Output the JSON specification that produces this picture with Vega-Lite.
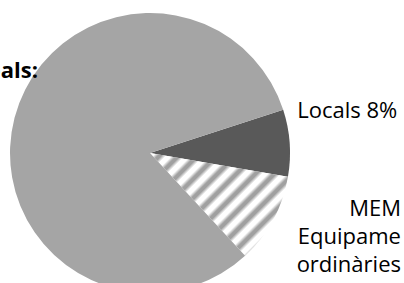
{
  "$schema": "https://vega.github.io/schema/vega-lite/v6.json",
  "width": 280,
  "height": 280,
  "autosize": "none",
  "padding": {"left": 10, "top": 13, "right": 114, "bottom": 0},
  "background": "white",
  "config": {"view": {"stroke": null}},
  "title": {
    "text": "Equipaments municipals:",
    "anchor": "start",
    "frame": "group",
    "align": "right",
    "baseline": "alphabetic",
    "offset": 0,
    "dx": 28,
    "dy": 87,
    "font": "Open Sans",
    "fontSize": 22,
    "fontWeight": "bold",
    "color": "#000000"
  },
  "data": {
    "values": [
      {"cat": "Locals", "value": 7.7, "label": "Locals 8%"},
      {"cat": "MEM", "value": 10.4, "label": ["MEM", "Equipame", "ordinàries"]},
      {"cat": "Municipals", "value": 81.9, "label": ""}
    ]
  },
  "transform": [
    {"stack": "value", "groupby": [], "sort": [{"field": "cat", "order": "ascending"}], "as": ["v0", "v1"]}
  ],
  "layer": [
    {
      "mark": {"type": "arc"},
      "encoding": {
        "theta": {"field": "v0", "type": "quantitative", "scale": {"domain": [0, 100], "range": [1.2575, 7.5407]}},
        "theta2": {"field": "v1"},
        "fill": {
          "condition": {
            "test": "datum.cat === 'MEM'",
            "value": {
              "gradient": "linear", "x1": 0, "y1": 0, "x2": 1.15, "y2": 0.858,
              "stops": [
                {"offset": 0, "color": "#ffffff"}, {"offset": 0.0231, "color": "#ffffff"}, {"offset": 0.0423, "color": "#a0a0a0"}, {"offset": 0.0577, "color": "#a0a0a0"},
                {"offset": 0.0769, "color": "#ffffff"}, {"offset": 0.1, "color": "#ffffff"}, {"offset": 0.1192, "color": "#a0a0a0"}, {"offset": 0.1346, "color": "#a0a0a0"},
                {"offset": 0.1538, "color": "#ffffff"}, {"offset": 0.1769, "color": "#ffffff"}, {"offset": 0.1962, "color": "#a0a0a0"}, {"offset": 0.2115, "color": "#a0a0a0"},
                {"offset": 0.2308, "color": "#ffffff"}, {"offset": 0.2538, "color": "#ffffff"}, {"offset": 0.2731, "color": "#a0a0a0"}, {"offset": 0.2885, "color": "#a0a0a0"},
                {"offset": 0.3077, "color": "#ffffff"}, {"offset": 0.3308, "color": "#ffffff"}, {"offset": 0.35, "color": "#a0a0a0"}, {"offset": 0.3654, "color": "#a0a0a0"},
                {"offset": 0.3846, "color": "#ffffff"}, {"offset": 0.4077, "color": "#ffffff"}, {"offset": 0.4269, "color": "#a0a0a0"}, {"offset": 0.4423, "color": "#a0a0a0"},
                {"offset": 0.4615, "color": "#ffffff"}, {"offset": 0.4846, "color": "#ffffff"}, {"offset": 0.5038, "color": "#a0a0a0"}, {"offset": 0.5192, "color": "#a0a0a0"},
                {"offset": 0.5385, "color": "#ffffff"}, {"offset": 0.5615, "color": "#ffffff"}, {"offset": 0.5808, "color": "#a0a0a0"}, {"offset": 0.5962, "color": "#a0a0a0"},
                {"offset": 0.6154, "color": "#ffffff"}, {"offset": 0.6385, "color": "#ffffff"}, {"offset": 0.6577, "color": "#a0a0a0"}, {"offset": 0.6731, "color": "#a0a0a0"},
                {"offset": 0.6923, "color": "#ffffff"}, {"offset": 0.7154, "color": "#ffffff"}, {"offset": 0.7346, "color": "#a0a0a0"}, {"offset": 0.75, "color": "#a0a0a0"},
                {"offset": 0.7692, "color": "#ffffff"}, {"offset": 0.7923, "color": "#ffffff"}, {"offset": 0.8115, "color": "#a0a0a0"}, {"offset": 0.8269, "color": "#a0a0a0"},
                {"offset": 0.8462, "color": "#ffffff"}, {"offset": 0.8692, "color": "#ffffff"}, {"offset": 0.8885, "color": "#a0a0a0"}, {"offset": 0.9038, "color": "#a0a0a0"},
                {"offset": 0.9231, "color": "#ffffff"}, {"offset": 0.9462, "color": "#ffffff"}, {"offset": 0.9654, "color": "#a0a0a0"}, {"offset": 0.9808, "color": "#a0a0a0"},
                {"offset": 1, "color": "#ffffff"}
              ]
            }
          },
          "field": "cat",
          "type": "nominal",
          "scale": {"domain": ["Locals", "MEM", "Municipals"], "range": ["#595959", "#ffffff", "#a5a5a5"]},
          "legend": null
        }
      }
    },
    {
      "transform": [{"filter": "datum.cat === 'Locals'"}],
      "mark": {"type": "text", "radius": 150, "align": "left", "baseline": "alphabetic", "dx": 4.5, "dy": 11, "font": "Open Sans", "fontSize": 22, "color": "#000000"},
      "encoding": {
        "theta": {"field": "v0", "type": "quantitative"},
        "text": {"field": "label"}
      }
    },
    {
      "transform": [{"filter": "datum.cat === 'MEM'"}],
      "mark": {"type": "text", "radius": 140, "align": "right", "baseline": "alphabetic", "dx": 113, "dy": 39, "lineHeight": 28, "font": "Open Sans", "fontSize": 22, "color": "#000000"},
      "encoding": {
        "theta": {"field": "v0", "type": "quantitative"},
        "text": {"field": "label"}
      }
    }
  ]
}
